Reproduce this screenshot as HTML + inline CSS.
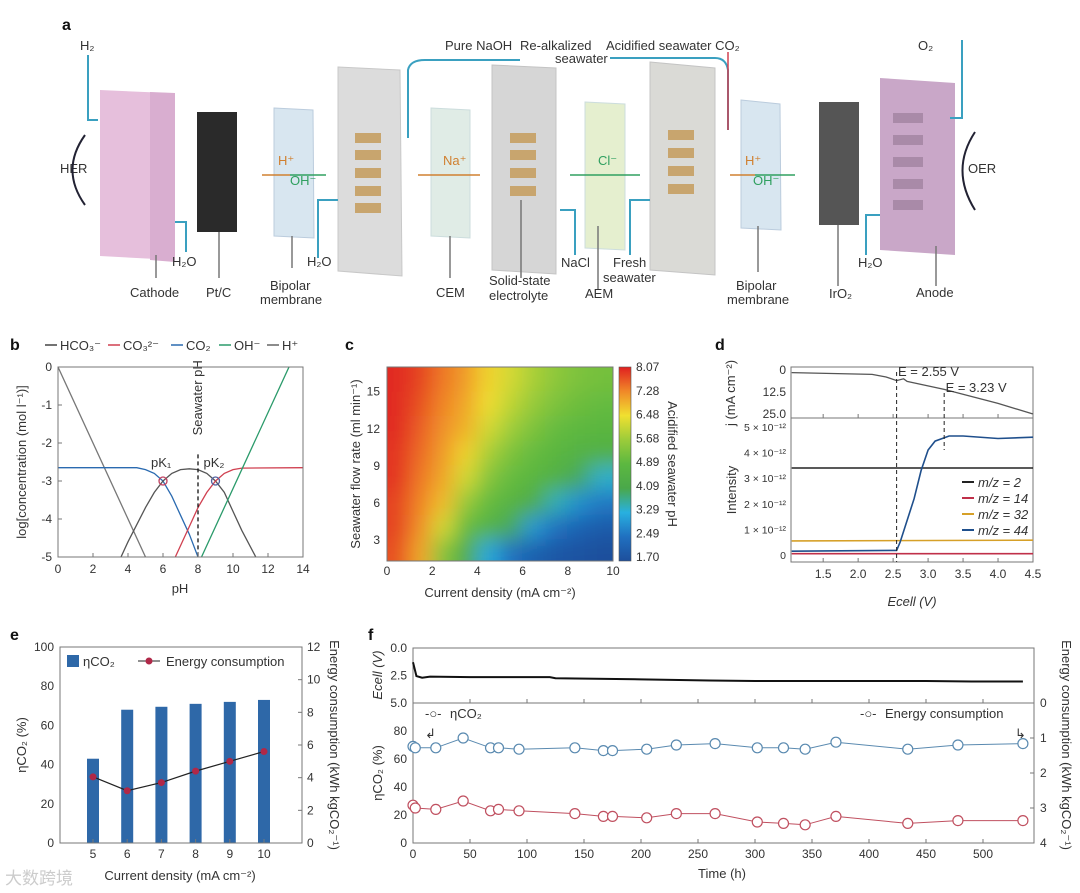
<!DOCTYPE html>
<html><head><meta charset="utf-8">
<style>
html,body{margin:0;padding:0;background:#fff;}
svg{display:block;font-family:"Liberation Sans","Noto Sans CJK SC",sans-serif;}
.t{font-size:12px;fill:#333;}
.ts{font-size:10.5px;fill:#333;}
.lab{font-size:13px;fill:#333;}
.pl{font-size:16px;font-weight:bold;fill:#111;}
.ax{stroke:#777;stroke-width:1;fill:none;}
</style></head>
<body>
<svg id="fig" width="1080" height="893" viewBox="0 0 1080 893">
<g id="pa">
<text class="pl" x="62" y="30">a</text>
<polygon points="100,90 168,93 175,260 100,256" fill="#e6bfdc"/>
<polygon points="150,92 175,93 175,262 150,260" fill="#d9aed0"/>
<rect x="197" y="112" width="40" height="120" fill="#2a2a2a"/>
<polygon points="274,108 313,110 314,238 274,236" fill="#d8e6f0" stroke="#bcd"/>
<polygon points="338,67 400,70 402,276 338,271" fill="#dcdcdc" stroke="#c8c8c8"/>
<polygon points="431,108 470,110 470,238 431,236" fill="#e0ece6" stroke="#cdd"/>
<polygon points="492,65 556,68 556,274 492,270" fill="#d6d6d6" stroke="#c4c4c4"/>
<polygon points="585,102 625,104 625,250 585,248" fill="#e5efcf" stroke="#cdd"/>
<polygon points="650,62 715,68 715,275 650,270" fill="#dadad6" stroke="#c4c4c4"/>
<polygon points="741,100 780,104 781,230 741,228" fill="#d8e6f0" stroke="#bcd"/>
<rect x="819" y="102" width="40" height="123" fill="#555"/>
<polygon points="880,78 955,83 955,255 880,250" fill="#c9a7c8"/>
<g fill="#c8a56e">
<rect x="355" y="133" width="26" height="10"/><rect x="355" y="150" width="26" height="10"/><rect x="355" y="168" width="26" height="10"/><rect x="355" y="186" width="26" height="10"/><rect x="355" y="203" width="26" height="10"/>
<rect x="510" y="133" width="26" height="10"/><rect x="510" y="150" width="26" height="10"/><rect x="510" y="168" width="26" height="10"/><rect x="510" y="186" width="26" height="10"/>
<rect x="668" y="130" width="26" height="10"/><rect x="668" y="148" width="26" height="10"/><rect x="668" y="166" width="26" height="10"/><rect x="668" y="184" width="26" height="10"/>
</g>
<g fill="#a98aa8"><rect x="893" y="113" width="30" height="10"/><rect x="893" y="135" width="30" height="10"/><rect x="893" y="157" width="30" height="10"/><rect x="893" y="179" width="30" height="10"/><rect x="893" y="200" width="30" height="10"/></g>
<g stroke="#3aa0c0" stroke-width="2" fill="none">
<path d="M88,55 V120 H98"/><path d="M186,252 V222 H175"/><path d="M318,258 V200 H338"/>
<path d="M408,138 V70 Q410,60 425,60 H520"/><path d="M575,255 V210 H560"/><path d="M630,255 V200 H650"/>
<path d="M728,130 V70 Q726,58 715,58 H610"/><path d="M866,255 V215 H880"/><path d="M962,40 V118 H950"/>
</g>
<path d="M728,130 V52" stroke="#d04050" stroke-width="1.5" fill="none"/>
<g stroke="#777" stroke-width="1.5">
<line x1="156" y1="255" x2="156" y2="278"/><line x1="219" y1="232" x2="219" y2="278"/><line x1="292" y1="236" x2="292" y2="268"/><line x1="450" y1="236" x2="450" y2="278"/><line x1="521" y1="200" x2="521" y2="278"/><line x1="598" y1="226" x2="598" y2="290"/><line x1="758" y1="226" x2="758" y2="272"/><line x1="838" y1="225" x2="838" y2="286"/><line x1="936" y1="246" x2="936" y2="286"/>
</g>
<g class="lab">
<text x="80" y="50">H₂</text><text x="918" y="50">O₂</text>
<text x="60" y="173">HER</text><text x="968" y="173">OER</text>
<text x="130" y="297">Cathode</text><text x="206" y="297">Pt/C</text>
<text x="270" y="290">Bipolar</text><text x="260" y="304">membrane</text>
<text x="172" y="266">H₂O</text><text x="307" y="266">H₂O</text>
<text x="436" y="297">CEM</text><text x="489" y="285">Solid-state</text><text x="489" y="300">electrolyte</text>
<text x="561" y="267">NaCl</text><text x="613" y="267">Fresh</text><text x="603" y="282">seawater</text><text x="585" y="298">AEM</text>
<text x="736" y="290">Bipolar</text><text x="727" y="304">membrane</text>
<text x="829" y="298">IrO₂</text><text x="858" y="267">H₂O</text><text x="916" y="297">Anode</text>
<text x="445" y="50">Pure NaOH</text><text x="520" y="50">Re-alkalized</text><text x="555" y="63">seawater</text>
<text x="606" y="50">Acidified seawater CO₂</text>
<text x="278" y="165" fill="#d08030">H⁺</text><text x="290" y="185" fill="#30a060">OH⁻</text>
<text x="443" y="165" fill="#d08030">Na⁺</text><text x="598" y="165" fill="#30a060">Cl⁻</text>
<text x="745" y="165" fill="#d08030">H⁺</text><text x="753" y="185" fill="#30a060">OH⁻</text>
</g>
<g stroke-width="1.5">
<line x1="262" y1="175" x2="290" y2="175" stroke="#d08030"/><line x1="290" y1="175" x2="326" y2="175" stroke="#30a060"/>
<line x1="418" y1="175" x2="480" y2="175" stroke="#d08030"/><line x1="570" y1="175" x2="640" y2="175" stroke="#30a060"/>
<line x1="730" y1="175" x2="755" y2="175" stroke="#d08030"/><line x1="755" y1="175" x2="795" y2="175" stroke="#30a060"/>
</g>
<path d="M85,205 Q60,170 85,135" stroke="#223" stroke-width="2" fill="none"/>
<path d="M975,210 Q950,170 975,132" stroke="#223" stroke-width="2" fill="none"/>
</g>
<g id="pb"></g>
<g id="pc"></g>
<g id="pd"></g>
<g id="pe"></g>
<g id="pf"></g>
<defs><filter id="blur" x="-0.1" y="-0.1" width="1.2" height="1.2"><feGaussianBlur stdDeviation="10" edgeMode="duplicate"/></filter>
<clipPath id="cclip"><rect x="387" y="367" width="226" height="194"/></clipPath>
<clipPath id="bclip"><rect x="58" y="367" width="245" height="190"/></clipPath>
<linearGradient id="cbar" x1="0" y1="1" x2="0" y2="0">
<stop offset="0" stop-color="#1d4f9c"/><stop offset="0.125" stop-color="#2070c0"/><stop offset="0.25" stop-color="#28b0e0"/><stop offset="0.375" stop-color="#4aa84a"/><stop offset="0.5" stop-color="#5cb840"/><stop offset="0.625" stop-color="#9ccc3a"/><stop offset="0.75" stop-color="#f0e030"/><stop offset="0.875" stop-color="#f08828"/><stop offset="1" stop-color="#e02020"/></linearGradient></defs>
</svg>
<script>
const bH = [[0,0],[5,-5]];
const bCO2 = [[0,-2.65],[4.5,-2.65],[5,-2.7],[5.5,-2.8],[6,-3.0],[6.5,-3.4],[7,-3.9],[7.5,-4.4],[8,-5]];
const bHCO3 = [[3.6,-5],[4,-4.6],[5,-3.7],[5.5,-3.3],[6,-3.0],[6.5,-2.8],[7,-2.7],[7.5,-2.68],[8,-2.7],[8.5,-2.8],[9,-3.0],[9.5,-3.3],[10,-3.8],[10.5,-4.3],[11.3,-5]];
const bCO3 = [[6.7,-5],[7.5,-4.2],[8,-3.7],[8.5,-3.3],[9,-3.0],[9.5,-2.8],[10,-2.7],[10.5,-2.66],[14,-2.65]];
const bOH = [[8.2,-5],[13.2,0]];
const bXTicks = [0,2,4,6,8,10,12,14];
const bYTicks = [0,-1,-2,-3,-4,-5];
const cCurrent = [0.5,1.5,2.5,3.5,4.5,5.5,6.5,7.5,8.5,9.5];
const cFlow = [16,14,12,10,8,6,4,2];
const cPH = [
[8.0,7.8,7.4,7.1,6.6,6.2,5.8,5.5,5.3,5.2],
[8.0,7.7,7.3,7.0,6.5,6.0,5.6,5.3,5.1,5.0],
[8.0,7.6,7.2,6.9,6.2,5.7,5.3,5.0,4.9,4.8],
[7.9,7.5,7.1,6.6,5.8,5.3,5.0,4.8,4.6,4.5],
[7.9,7.4,7.0,6.2,5.4,5.0,4.8,4.5,4.0,3.4],
[7.8,7.3,6.8,5.6,5.0,4.7,4.3,3.5,2.9,2.6],
[7.8,7.2,6.2,5.0,4.6,4.0,3.0,2.5,2.2,2.0],
[7.7,7.0,5.4,4.3,3.2,2.5,2.1,1.9,1.8,1.7]];
const cXTicks = [0,2,4,6,8,10];
const cYTicks = [3,6,9,12,15];
const cBarLabels = ["8.07","7.28","6.48","5.68","4.89","4.09","3.29","2.49","1.70"];
const dJ = [[1.05,1.5],[2.2,2.5],[2.4,4],[2.55,6],[2.65,5],[2.7,6.5],[3.23,11],[4.0,19],[4.5,25]];
const dM2 = [[1.05,3.4],[4.5,3.4]];
const dM14 = [[1.05,0.05],[4.5,0.05]];
const dM32 = [[1.05,0.55],[4.5,0.58]];
const dM44 = [[1.05,0.15],[2.55,0.18],[2.6,0.5],[2.8,2.2],[2.9,3.3],[3.0,4.1],[3.1,4.45],[3.3,4.65],[3.5,4.65],[4.0,4.55],[4.5,4.6]];
const dXTicks = [1.5,2.0,2.5,3.0,3.5,4.0,4.5];
const dIntTicks = [0,1,2,3,4,5];
const dJTicks = [0,12.5,25];
const eCurrent = [5,6,7,8,9,10];
const eEta = [43,68,69.5,71,72,73];
const eEnergy = [4.05,3.2,3.7,4.4,5.0,5.6];
const eLeftTicks = [0,20,40,60,80,100];
const eRightTicks = [0,2,4,6,8,10,12];
const fTime = [0,2,20,44,68,75,93,142,167,175,205,231,265,302,325,344,371,434,478,535];
const fEta = [69,68,68,75,68,68,67,68,66,66,67,70,71,68,68,67,72,67,70,71];
const fEnergy = [2.92,3.0,3.04,2.8,3.08,3.04,3.08,3.16,3.24,3.24,3.28,3.16,3.16,3.4,3.44,3.48,3.24,3.44,3.36,3.36];
const fEcellT = [0,3,8,15,50,120,125,200,260,300,380,450,490,535];
const fEcellV = [1.3,2.55,2.7,2.6,2.65,2.65,2.75,2.85,2.95,3.0,3.0,3.0,3.05,3.05];
const fXTicks = [0,50,100,150,200,250,300,350,400,450,500];
const fLeftTicks = [0,20,40,60,80];
const fRightTicks = [0,1,2,3,4];
const fEcellTicks = [0,2.5,5.0];

const NS="http://www.w3.org/2000/svg";
function mk(parent,tag,attrs,text){const e=document.createElementNS(NS,tag);for(const k in attrs)e.setAttribute(k,attrs[k]);if(text!==undefined)e.textContent=text;parent.appendChild(e);return e;}
function lin(d0,d1,r0,r1){return v=>r0+(v-d0)*(r1-r0)/(d1-d0);}
function poly(pts,sx,sy){return pts.map(p=>sx(p[0]).toFixed(1)+","+sy(p[1]).toFixed(1)).join(" ");}

(function(){
const g=document.getElementById('pb');
const x=lin(0,14,58,303), y=lin(0,-5,367,557);
let t=mk(g,'text',{class:'pl',x:10,y:350});t.textContent='b';


const leg=[["HCO₃⁻","#444"],["CO₃²⁻","#d04050"],["CO₂","#2a6ab0"],["OH⁻","#2a9a6a"],["H⁺","#666"]];
let lx=45;
leg.forEach(l=>{const e=mk(g,'g',{});


mk(e,'line',{x1:lx,x2:lx+12,y1:345,y2:345,stroke:l[1],'stroke-width':1.5});
mk(e,'text',{class:'lab',x:lx+15,y:350},l[0]);lx+= l[0].length>3?63:48;});
const series=[[bH,"#777"],[bCO2,"#2a6ab0"],[bHCO3,"#555"],[bCO3,"#d04050"],[bOH,"#2a9a6a"]];
const cg=mk(g,'g',{'clip-path':'url(#bclip)'});
series.forEach(s=>{const p=mk(cg,'polyline',{points:poly(s[0],x,y),fill:'none',stroke:s[1],'stroke-width':1.3});

});
mk(g,'line',{x1:x(8),x2:x(8),y1:y(-2.3),y2:y(-5),stroke:'#111','stroke-dasharray':'4,3','stroke-width':1.3});
mk(g,'text',{class:'lab',transform:`translate(${x(8)+4},${y(-1.8)}) rotate(-90)`},'Seawater pH');
[[6,-3,"#c04060","pK₁",-14],[9,-3,"#5060a0","pK₂",-14]].forEach(k=>{mk(g,'circle',{cx:x(k[0]),cy:y(k[1]),r:4,fill:'none',stroke:k[2],'stroke-width':1.3});
mk(g,'text',{class:'lab',x:x(k[0])-12,y:y(k[1])+k[4],fill:k[2]},k[3]);});
mk(g,'rect',{x:58,y:367,width:245,height:190,class:'ax'});
bXTicks.forEach(v=>{mk(g,'line',{x1:x(v),x2:x(v),y1:557,y2:553,stroke:'#777'});mk(g,'text',{class:'t',x:x(v),y:573,'text-anchor':'middle'},v);});
bYTicks.forEach(v=>{mk(g,'line',{x1:58,x2:62,y1:y(v),y2:y(v),stroke:'#777'});mk(g,'text',{class:'t',x:52,y:y(v)+4,'text-anchor':'end'},v);});
mk(g,'text',{class:'lab',x:180,y:593,'text-anchor':'middle'},'pH');
mk(g,'text',{class:'lab',transform:'translate(26,462) rotate(-90)','text-anchor':'middle'},'log[concentration (mol l⁻¹)]');
})();

function pHcolor(v){const stops=[[1.7,[29,79,156]],[2.49,[32,112,192]],[3.29,[40,176,224]],[4.09,[74,168,74]],[4.89,[92,184,64]],[5.68,[156,204,58]],[6.48,[240,224,48]],[7.28,[240,136,40]],[8.07,[224,32,32]]];
if(v<=stops[0][0])return `rgb(${stops[0][1]})`;for(let i=1;i<stops.length;i++){if(v<=stops[i][0]){const f=(v-stops[i-1][0])/(stops[i][0]-stops[i-1][0]);const c=stops[i-1][1].map((a,j)=>Math.round(a+f*(stops[i][1][j]-a)));return `rgb(${c})`;}}return `rgb(${stops[8][1]})`;}
(function(){
const g=document.getElementById('pc');
const x=lin(0,10,387,613), y=lin(1.3,17,561,367);
let t=mk(g,'text',{class:'pl',x:345,y:350},'c');


const cg=mk(g,'g',{'clip-path':'url(#cclip)'});
const hg=mk(cg,'g',{filter:'url(#blur)'});


const nR=cFlow.length, nC=cCurrent.length;
cFlow.forEach((f,i)=>cCurrent.forEach((c,j)=>{
const x0=j===0?x(-2):x(c-0.5), x1=j===nC-1?x(12):x(c+0.5);
const y0=i===0?y(21):y(f+1), y1=i===nR-1?y(-2):y(f-1);
const r=mk(hg,'rect',{x:x0-0.5,y:y0-0.5,width:x1-x0+1,height:y1-y0+1,fill:pHcolor(cPH[i][j])});


}));
mk(g,'rect',{x:387,y:367,width:226,height:194,class:'ax'});
cXTicks.forEach(v=>{mk(g,'text',{class:'t',x:x(v),y:575,'text-anchor':'middle'},v);});
cYTicks.forEach(v=>{mk(g,'text',{class:'t',x:380,y:y(v)+4,'text-anchor':'end'},v);});
mk(g,'text',{class:'lab',x:500,y:597,'text-anchor':'middle'},'Current density (mA cm⁻²)');
mk(g,'text',{class:'lab',transform:'translate(360,464) rotate(-90)','text-anchor':'middle'},'Seawater flow rate (ml min⁻¹)');
const cb=mk(g,'rect',{x:619,y:367,width:12,height:194,fill:'url(#cbar)',stroke:'#555','stroke-width':0.6});


cBarLabels.forEach((l,i)=>mk(g,'text',{class:'t',x:636,y:371+i*(190/8)},l));
mk(g,'text',{class:'lab',transform:'translate(668,464) rotate(90)','text-anchor':'middle'},'Acidified seawater pH');
})();

(function(){
const g=document.getElementById('pd');
const x=lin(1.04,4.5,791,1033), yj=lin(0,25,370,414), yi=lin(0,5,555,427);
let t=mk(g,'text',{class:'pl',x:715,y:350},'d');


mk(g,'rect',{x:791,y:367,width:242,height:51,class:'ax'});
mk(g,'rect',{x:791,y:418,width:242,height:144,class:'ax'});
const pj=mk(g,'polyline',{points:poly(dJ,x,yj),fill:'none',stroke:'#555','stroke-width':1.3});


[[dM2,'#222'],[dM14,'#c0304a'],[dM32,'#d6a028'],[dM44,'#1f4f8c']].forEach(s=>{const p=mk(g,'polyline',{points:poly(s[0],x,yi),fill:'none',stroke:s[1],'stroke-width':1.6});

});
mk(g,'line',{x1:x(2.55),x2:x(2.55),y1:372,y2:562,stroke:'#222','stroke-dasharray':'4,3'});
mk(g,'line',{x1:x(3.23),x2:x(3.23),y1:393,y2:450,stroke:'#222','stroke-dasharray':'4,3'});
mk(g,'text',{class:'lab',x:x(2.57),y:376},'E = 2.55 V');
mk(g,'text',{class:'lab',x:x(3.25),y:392},'E = 3.23 V');
dXTicks.forEach(v=>{mk(g,'line',{x1:x(v),x2:x(v),y1:562,y2:558,stroke:'#777'});mk(g,'line',{x1:x(v),x2:x(v),y1:418,y2:414,stroke:'#777'});mk(g,'text',{class:'t',x:x(v),y:578,'text-anchor':'middle'},v.toFixed(1));});
dIntTicks.forEach(v=>{mk(g,'text',{class:'ts',x:786,y:yi(v)+4,'text-anchor':'end'},v===0?'0':v+' × 10⁻¹²');});
dJTicks.forEach(v=>{mk(g,'text',{class:'t',x:786,y:yj(v)+4,'text-anchor':'end'},v===0?'0':v.toFixed(1));});
mk(g,'text',{class:'lab',x:912,y:606,'text-anchor':'middle','font-style':'italic'},'Ecell (V)');
mk(g,'text',{class:'lab',transform:'translate(735,393) rotate(-90)','text-anchor':'middle','font-size':'12'},'j (mA cm⁻²)');
mk(g,'text',{class:'lab',transform:'translate(736,490) rotate(-90)','text-anchor':'middle'},'Intensity');
[['m/z = 2','#222'],['m/z = 14','#c0304a'],['m/z = 32','#d6a028'],['m/z = 44','#1f4f8c']].forEach((l,i)=>{const e=mk(g,'g',{});


mk(e,'line',{x1:962,x2:974,y1:482+i*16,y2:482+i*16,stroke:l[1],'stroke-width':2});
mk(e,'text',{class:'lab',x:978,y:487+i*16,'font-style':'italic'},l[0]);});
})();

(function(){
const g=document.getElementById('pe');
const x=lin(5,10,93,264), yl=lin(0,100,843,647), yr=lin(0,12,843,647);
let t=mk(g,'text',{class:'pl',x:10,y:640},'e');


eCurrent.forEach((c,i)=>{const b=mk(g,'rect',{x:x(c)-6,y:yl(eEta[i]),width:12,height:843-yl(eEta[i]),fill:'#2e68a8'});

});
const p=mk(g,'path',{d:'M'+eCurrent.map((c,i)=>x(c)+','+yr(eEnergy[i])).join(' L'),fill:'none',stroke:'#222','stroke-width':1.2});


eCurrent.forEach((c,i)=>{const d=mk(g,'circle',{cx:x(c),cy:yr(eEnergy[i]),r:3.5,fill:'#b02848'});

});
mk(g,'rect',{x:60,y:647,width:242,height:196,class:'ax'});
eCurrent.forEach(c=>{mk(g,'line',{x1:x(c),x2:x(c),y1:843,y2:839,stroke:'#777'});mk(g,'text',{class:'t',x:x(c),y:858,'text-anchor':'middle'},c);});
eLeftTicks.forEach(v=>{mk(g,'text',{class:'t',x:54,y:yl(v)+4,'text-anchor':'end'},v);});
eRightTicks.forEach(v=>{mk(g,'line',{x1:302,x2:298,y1:yr(v),y2:yr(v),stroke:'#777'});mk(g,'text',{class:'t',x:307,y:yr(v)+4},v);});
mk(g,'text',{class:'lab',x:180,y:880,'text-anchor':'middle'},'Current density (mA cm⁻²)');
mk(g,'text',{class:'lab',transform:'translate(26,745) rotate(-90)','text-anchor':'middle'},'ηCO₂ (%)');
mk(g,'text',{class:'lab',transform:'translate(330,745) rotate(90)','text-anchor':'middle'},'Energy consumption (kWh kgCO₂⁻¹)');
mk(g,'rect',{x:67,y:655,width:12,height:12,fill:'#2e68a8'});
mk(g,'text',{class:'lab',x:83,y:666},'ηCO₂');
mk(g,'line',{x1:138,x2:160,y1:661,y2:661,stroke:'#222'});
mk(g,'circle',{cx:149,cy:661,r:3.5,fill:'#b02848'});
mk(g,'text',{class:'lab',x:166,y:666},'Energy consumption');
mk(g,'text',{x:5,y:884,'font-size':17,fill:'#ccc'},'大数跨境');
})();

(function(){
const g=document.getElementById('pf');
const x=lin(0,500,413,983), yl=lin(0,100,843,703), yr=lin(0,4,703,843), ye=lin(0,5,648,703);
let t=mk(g,'text',{class:'pl',x:368,y:640},'f');


mk(g,'rect',{x:413,y:648,width:621,height:55,class:'ax'});
mk(g,'rect',{x:413,y:703,width:621,height:140,class:'ax'});
const ec=mk(g,'polyline',{points:fEcellT.map((tt,i)=>x(tt)+','+ye(fEcellV[i])).join(' '),fill:'none',stroke:'#111','stroke-width':2});


[[fEta,yl,'#5a8ab0','eta'],[fEnergy,yr,'#c05060','energy']].forEach(s=>{
const p=mk(g,'polyline',{points:fTime.map((tt,i)=>x(tt)+','+s[1](s[0][i])).join(' '),fill:'none',stroke:s[2],'stroke-width':1});


fTime.forEach((tt,i)=>{const c=mk(g,'circle',{cx:x(tt),cy:s[1](s[0][i]),r:5,fill:'#fff',stroke:s[2],'stroke-width':1.2});

});});
fXTicks.forEach(v=>{mk(g,'line',{x1:x(v),x2:x(v),y1:843,y2:839,stroke:'#777'});mk(g,'line',{x1:x(v),x2:x(v),y1:703,y2:699,stroke:'#777'});mk(g,'text',{class:'t',x:x(v),y:858,'text-anchor':'middle'},v);});
fLeftTicks.forEach(v=>{mk(g,'text',{class:'t',x:407,y:yl(v)+4,'text-anchor':'end'},v);});
fRightTicks.forEach(v=>{mk(g,'line',{x1:1034,x2:1030,y1:yr(v),y2:yr(v),stroke:'#777'});mk(g,'text',{class:'t',x:1040,y:yr(v)+4},v);});
fEcellTicks.forEach(v=>{mk(g,'text',{class:'t',x:407,y:ye(v)+4,'text-anchor':'end'},v.toFixed(1));});
mk(g,'text',{class:'lab',x:722,y:878,'text-anchor':'middle'},'Time (h)');
mk(g,'text',{class:'lab',transform:'translate(382,675) rotate(-90)','text-anchor':'middle','font-style':'italic'},'Ecell (V)');
mk(g,'text',{class:'lab',transform:'translate(382,773) rotate(-90)','text-anchor':'middle'},'ηCO₂ (%)');
mk(g,'text',{class:'lab',transform:'translate(1062,745) rotate(90)','text-anchor':'middle'},'Energy consumption (kWh kgCO₂⁻¹)');
mk(g,'text',{class:'lab',x:425,y:718,fill:'#5a8ab0'},'-○- ');
mk(g,'text',{class:'lab',x:450,y:718},'ηCO₂');
mk(g,'text',{class:'lab',x:860,y:718,fill:'#c05060'},'-○- ');
mk(g,'text',{class:'lab',x:885,y:718},'Energy consumption');
mk(g,'text',{class:'lab',x:425,y:738},'↲');
mk(g,'text',{class:'lab',x:1015,y:738},'↳');
})();
</script>
</body></html>
